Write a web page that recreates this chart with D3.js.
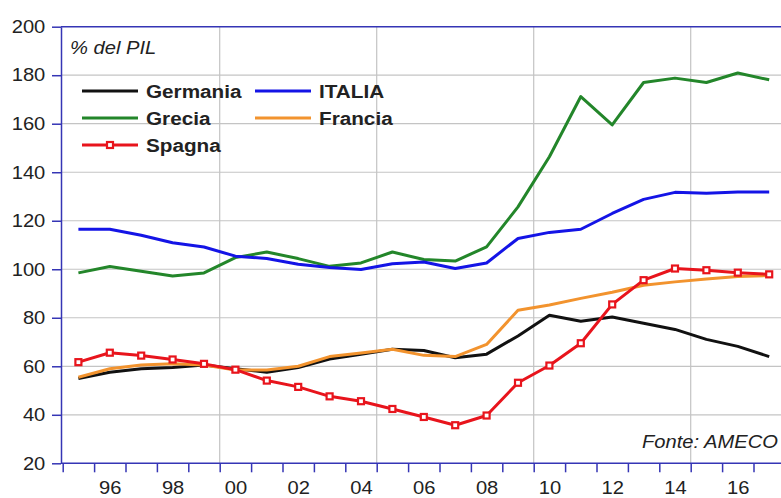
<!DOCTYPE html>
<html>
<head>
<meta charset="utf-8">
<script src="https://cdn.jsdelivr.net/npm/d3@7"></script>
<style>
  body{ margin:0; background:#fff; }
  svg text{ font-family:"Liberation Sans", Arial, sans-serif; fill:#222; }
</style>
</head>
<body>
<div id="chart"></div>
<script>
// Debito pubblico, % del PIL (fonte AMECO), 1995-2017
const years = d3.range( 1995, 2018 );
const germania = [55.0, 57.5, 59.0, 59.5, 60.5, 59.0, 57.5, 59.5, 63.0, 65.0, 67.0, 66.5, 63.5, 65.0, 72.5, 81.0, 78.6, 80.3, 77.7, 75.2, 71.1, 68.2, 64.0];
const italia   = [116.5, 116.5, 114.0, 110.9, 109.2, 105.4, 104.4, 102.1, 100.7, 99.9, 102.3, 103.0, 100.3, 102.6, 112.7, 115.2, 116.5, 123.0, 128.8, 131.7, 131.3, 131.8, 131.8];
const grecia   = [98.5, 101.1, 99.2, 97.2, 98.5, 104.8, 107.1, 104.4, 101.2, 102.6, 107.1, 104.0, 103.4, 109.2, 125.7, 146.4, 171.2, 159.5, 177.0, 178.8, 177.0, 180.9, 178.1];
const francia  = [55.5, 59.0, 60.5, 61.0, 60.5, 58.5, 58.5, 60.0, 64.0, 65.5, 67.0, 64.5, 64.0, 69.0, 83.1, 85.3, 88.0, 90.5, 93.4, 94.8, 96.0, 97.0, 97.4];
const spagna   = [61.7, 65.6, 64.4, 62.8, 61.0, 58.6, 54.1, 51.5, 47.6, 45.6, 42.4, 39.1, 35.7, 39.7, 53.2, 60.3, 69.5, 85.5, 95.5, 100.3, 99.6, 98.6, 97.9];

const y_ticks = d3.range( 20, 201, 20 );
const grid_years = [2000, 2005, 2010, 2015];
const label_years = [1996, 1998, 2000, 2002, 2004, 2006, 2008, 2010, 2012, 2014, 2016];

const series = [
  { name: 'Grecia',   values: grecia,   color: '#23862a' },
  { name: 'Germania', values: germania, color: '#111111' },
  { name: 'Francia',  values: francia,  color: '#f2932e' },
  { name: 'ITALIA',   values: italia,   color: '#1414e6' },
  { name: 'Spagna',   values: spagna,   color: '#e8141c', marker: true }
];

const width = 781, height = 498;
const axis_color = '#3535b5';
const sx = 1.12;  // the original text is a bit wider than it is tall

const svg = d3.select( '#chart' ).append( 'svg' )
  .attr( 'width', width )
  .attr( 'height', height );

// scales: each year takes one slot, points sit in the middle of the slot
const x = d3.scaleLinear().domain( [1995, 2018] ).range( [62.7, 784.9] );
const y = d3.scaleLinear().domain( [20, 200] ).range( [463.3, 26.7] );

// Grid
svg.append( 'g' ).selectAll( 'line' )
  .data( y_ticks.filter( d => d > 20 && d < 200 ) )
  .enter().append( 'line' )
    .attr( 'x1', 61 ).attr( 'x2', width )
    .attr( 'y1', d => y( d ) ).attr( 'y2', d => y( d ) )
    .attr( 'stroke', '#c4c4c4' ).attr( 'stroke-width', 1.2 );
svg.append( 'g' ).selectAll( 'line' )
  .data( grid_years )
  .enter().append( 'line' )
    .attr( 'x1', d => x( d ) ).attr( 'x2', d => x( d ) )
    .attr( 'y1', y( 200 ) ).attr( 'y2', y( 20 ) )
    .attr( 'stroke', '#c4c4c4' ).attr( 'stroke-width', 1.2 );

// Top frame line
svg.append( 'line' )
  .attr( 'x1', 61 ).attr( 'x2', width )
  .attr( 'y1', y( 200 ) ).attr( 'y2', y( 200 ) )
  .attr( 'stroke', axis_color ).attr( 'stroke-width', 1.5 );

// Y axis
const y_axis = svg.append( 'g' )
  .attr( 'transform', 'translate(61,0)' )
  .call( d3.axisLeft( y ).tickValues( y_ticks ).tickSize( 9 ).tickPadding( 5 ).tickSizeOuter( 0 ) );
y_axis.selectAll( 'line, path' ).attr( 'stroke', axis_color ).attr( 'stroke-width', 1.5 );
y_axis.selectAll( 'text' )
  .attr( 'font-size', 18 ).attr( 'fill', '#222' )
  .attr( 'transform', 'scale(' + sx + ',1)' );

// X axis: ticks at year boundaries, labels in the middle of even years
const x_axis = svg.append( 'g' )
  .attr( 'transform', 'translate(0,' + y( 20 ) + ')' )
  .call( d3.axisBottom( x ).tickValues( d3.range( 1995, 2018 ) ).tickSize( 9 ).tickFormat( '' ).tickSizeOuter( 0 ) );
x_axis.selectAll( 'line, path' ).attr( 'stroke', axis_color ).attr( 'stroke-width', 1.5 );
x_axis.select( 'path' ).attr( 'd', 'M61,0H' + width );

const x_labels = svg.append( 'g' )
  .attr( 'transform', 'translate(0,' + y( 20 ) + ')' )
  .call( d3.axisBottom( x ).tickValues( label_years.map( d => d + 0.5 ) ).tickSize( 0 ).tickPadding( 18 )
    .tickFormat( d => String( Math.floor( d ) % 100 ).padStart( 2, '0' ) ) );
x_labels.select( 'path' ).remove();
x_labels.selectAll( 'text' )
  .attr( 'font-size', 18 ).attr( 'fill', '#222' )
  .attr( 'transform', 'scale(' + sx + ',1)' )
  .attr( 'x', 0 );

// Lines
const line = d3.line()
  .x( ( d, i ) => x( years[i] + 0.5 ) )
  .y( d => y( d ) );

series.forEach( s => {
  svg.append( 'path' )
    .datum( s.values )
    .attr( 'd', line )
    .attr( 'fill', 'none' )
    .attr( 'stroke', s.color )
    .attr( 'stroke-width', 3 )
    .attr( 'stroke-linejoin', 'round' );
  if( s.marker ){
    svg.append( 'g' ).selectAll( 'rect' )
      .data( s.values )
      .enter().append( 'rect' )
        .attr( 'x', ( d, i ) => x( years[i] + 0.5 ) - 3 )
        .attr( 'y', d => y( d ) - 3 )
        .attr( 'width', 6 ).attr( 'height', 6 )
        .attr( 'fill', '#fff' )
        .attr( 'stroke', s.color )
        .attr( 'stroke-width', 2.2 );
  }
});

// Legend
const legend_items = [
  { name: 'Germania', col: 0, row: 0 },
  { name: 'ITALIA',   col: 1, row: 0 },
  { name: 'Grecia',   col: 0, row: 1 },
  { name: 'Francia',  col: 1, row: 1 },
  { name: 'Spagna',   col: 0, row: 2 }
];
const legend = svg.append( 'g' );
legend_items.forEach( it => {
  const s = series.find( d => d.name === it.name );
  const lx = 82 + it.col * 173;
  const ly = 91 + it.row * 27;
  legend.append( 'line' )
    .attr( 'x1', lx ).attr( 'x2', lx + 56 )
    .attr( 'y1', ly ).attr( 'y2', ly )
    .attr( 'stroke', s.color ).attr( 'stroke-width', 3 );
  if( s.marker ){
    legend.append( 'rect' )
      .attr( 'x', lx + 28 - 3 ).attr( 'y', ly - 3 )
      .attr( 'width', 6 ).attr( 'height', 6 )
      .attr( 'fill', '#fff' ).attr( 'stroke', s.color ).attr( 'stroke-width', 2.2 );
  }
  legend.append( 'text' )
    .attr( 'transform', 'translate(' + ( lx + 64 ) + ',' + ( ly + 6.5 ) + ') scale(' + sx + ',1)' )
    .attr( 'font-size', 18.5 )
    .attr( 'font-weight', 'bold' )
    .attr( 'fill', '#222' )
    .text( it.name );
});

// Notes
svg.append( 'text' )
  .attr( 'transform', 'translate(70,54) scale(' + sx + ',1)' )
  .attr( 'font-size', 18 ).attr( 'font-style', 'italic' ).attr( 'fill', '#333' )
  .text( '% del PIL' );
svg.append( 'text' )
  .attr( 'transform', 'translate(642,448) scale(' + sx + ',1)' )
  .attr( 'font-size', 18 ).attr( 'font-style', 'italic' ).attr( 'fill', '#333' )
  .text( 'Fonte: AMECO' );
</script>
</body>
</html>
